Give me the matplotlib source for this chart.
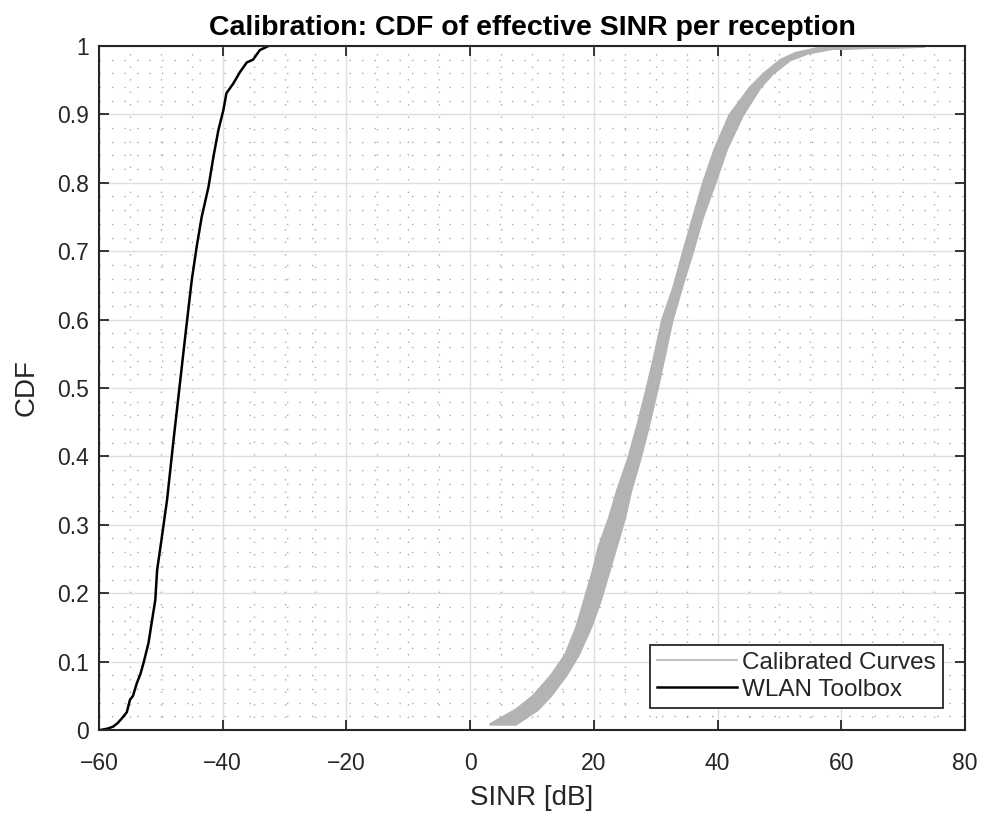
import numpy as np
import matplotlib
matplotlib.use('Agg')
import matplotlib.pyplot as plt
from matplotlib.lines import Line2D
from matplotlib.ticker import MultipleLocator

plt.rcParams['font.family'] = ['Liberation Sans', 'DejaVu Sans']

wlan_sinr = [-59.8, -58.6, -57.7, -57.0, -56.3, -55.5, -55.0, -54.5, -53.9, -53.3,
             -52.8, -52.0, -51.5, -50.9, -50.6, -49.9, -49.3, -49.0, -48.0, -47.0,
             -46.0, -45.0, -44.2, -43.4, -42.3, -41.5, -40.7, -39.9, -39.4, -38.3,
             -37.2, -36.1, -35.1, -34.0, -32.6]
wlan_cdf = [0.0, 0.002, 0.005, 0.010, 0.017, 0.026, 0.044, 0.050, 0.068, 0.082,
            0.098, 0.127, 0.156, 0.190, 0.234, 0.278, 0.317, 0.336, 0.420, 0.500,
            0.580, 0.658, 0.707, 0.750, 0.794, 0.838, 0.877, 0.906, 0.931, 0.945,
            0.962, 0.976, 0.980, 0.994, 1.0]

# Calibrated curves: the band they cover (left and right edges)
cal_cdf = [0.009, 0.03, 0.05, 0.08, 0.11, 0.15, 0.19, 0.23, 0.27, 0.31,
           0.35, 0.40, 0.45, 0.50, 0.55, 0.60, 0.65, 0.70, 0.75, 0.80,
           0.85, 0.90, 0.94, 0.96, 0.98, 0.99, 0.997, 1.0]
cal_left = [3.2, 7.3, 10.1, 13.0, 15.3, 17.1, 18.4, 19.7, 20.8, 22.4,
            23.7, 25.6, 27.1, 28.5, 29.8, 31.0, 32.9, 34.4, 36.0, 37.6,
            39.5, 41.9, 45.2, 47.4, 50.1, 52.5, 56.0, 73.0]
cal_right = [7.3, 10.8, 12.9, 15.4, 17.4, 19.4, 21.0, 22.3, 23.6, 24.9,
             25.9, 27.5, 28.9, 30.2, 31.4, 32.6, 34.2, 35.9, 37.5, 39.5,
             41.4, 44.0, 46.8, 48.8, 51.6, 54.5, 58.5, 73.3]

yticks = [0, 0.1, 0.2, 0.3, 0.4, 0.5, 0.6, 0.7, 0.8, 0.9, 1]
ytick_labels = ['0', '0.1', '0.2', '0.3', '0.4', '0.5', '0.6', '0.7', '0.8', '0.9', '1']

gray = '#b3b3b3'
axis_col = '#262626'

fig = plt.figure(figsize=(9.84, 8.17), dpi=100)
ax = fig.add_axes([0.1006, 0.1065, 0.8801, 0.8372])

ax.fill_betweenx(cal_cdf, cal_left, cal_right, color=gray, lw=2.0, edgecolor=gray)
ax.plot(wlan_sinr, wlan_cdf, color='black', lw=1.8)

ax.set_xlim(-60, 80)
ax.set_ylim(0, 1)
ax.xaxis.set_major_locator(MultipleLocator(20))
ax.xaxis.set_minor_locator(MultipleLocator(5))
ax.set_yticks(yticks)
ax.set_yticklabels(ytick_labels)
ax.yaxis.set_minor_locator(MultipleLocator(0.02))

ax.grid(True, which='major', color='#dedede', lw=1.0, ls='-')
ax.grid(True, which='minor', color='#ababab', lw=1.0, ls=(0, (1, 8)))
ax.set_axisbelow(True)

ax.tick_params(which='major', direction='in', length=7, width=1.3, color=axis_col,
               labelsize=16.5, labelcolor=axis_col, top=True, right=True)
ax.tick_params(axis='x', which='major', pad=16)
ax.tick_params(axis='y', which='major', pad=7)
ax.tick_params(which='minor', length=0, top=True, right=True)
for s in ax.spines.values():
    s.set_color(axis_col)
    s.set_linewidth(1.5)

ax.set_xlabel('SINR [dB]', fontsize=20, color=axis_col, labelpad=7)
ax.set_ylabel('CDF', fontsize=20, color=axis_col, labelpad=13)
ax.set_title('Calibration: CDF of effective SINR per reception', fontsize=20.5,
             fontweight='bold', color='black', pad=8)

handles = [Line2D([], [], color=gray, lw=1.2), Line2D([], [], color='black', lw=1.8)]
leg = ax.legend(handles, ['Calibrated Curves', 'WLAN Toolbox'], loc='lower right',
                bbox_to_anchor=(0.9746, 0.032), fontsize=17.5, fancybox=False,
                framealpha=1, edgecolor=axis_col, handlelength=3.3, handletextpad=0.2,
                borderpad=0.3, labelspacing=0.2, borderaxespad=0)
leg.get_frame().set_linewidth(1.3)
for t in leg.get_texts():
    t.set_color(axis_col)

fig.savefig('out.png', dpi=100)
